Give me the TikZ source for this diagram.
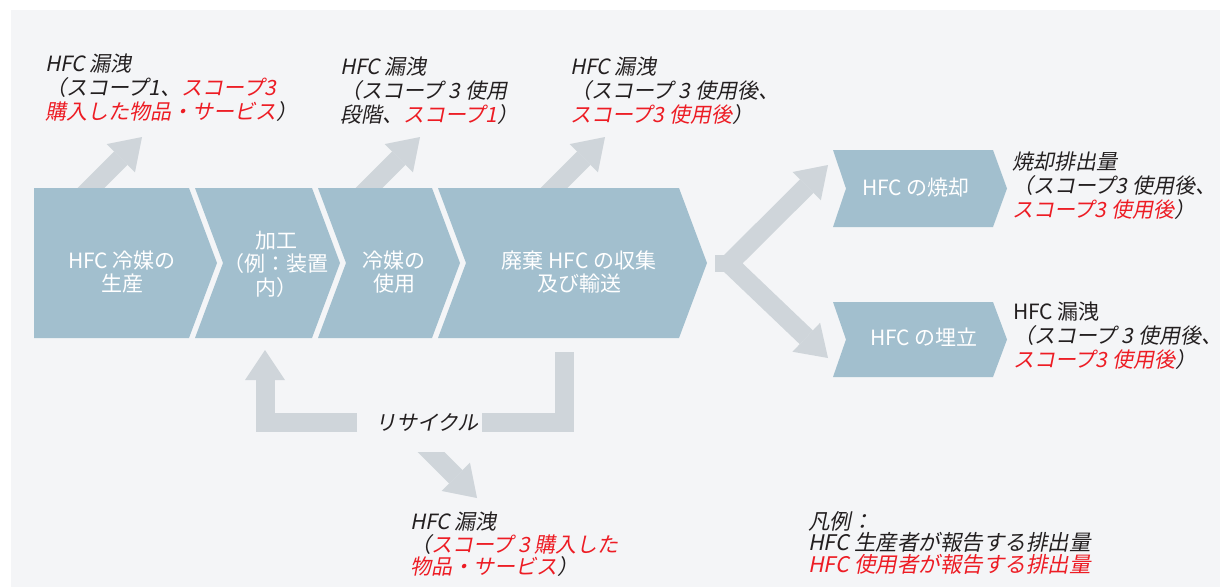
\documentclass[tikz,border=0pt]{standalone}
\usepackage{fontspec}
\setmainfont{Noto Sans CJK JP}
\newfontfamily\jpup{Noto Sans CJK JP}
\newfontfamily\jpit[FakeSlant=0.2]{Noto Sans CJK JP}
\usetikzlibrary{arrows.meta}
\definecolor{bgc}{HTML}{F4F5F7}
\definecolor{chevc}{HTML}{A2BFCE}
\definecolor{arrc}{HTML}{CFD5DA}
\definecolor{redc}{HTML}{ED1C24}
\definecolor{txtc}{HTML}{231F20}
\newcommand\rd[1]{\textcolor{redc}{#1}}
\tikzset{
  chev/.style={fill=chevc, draw=none},
  headtip/.tip={Triangle[length=30pt,width=40pt,line width=0pt]},
  flow/.style={draw=arrc, line width=19pt, -headtip},
  band/.style={draw=arrc, line width=19pt, line join=miter},
  lbl/.style={align=left, anchor=north west, inner sep=0pt, text=txtc,
    font=\fontsize{21}{24}\selectfont\jpit},
  chevtxt/.style={align=center, inner sep=0pt, text=white,
    font=\fontsize{21}{23.5}\selectfont},
}
\begin{document}
\begin{tikzpicture}[x=1pt,y=-1pt]
\useasboundingbox (0,0) rectangle (1229,587);
\fill[white] (0,0) rectangle (1229,587);
\fill[bgc] (11,10) rectangle (1220,587);

% leak arrows (behind chevrons)
\coordinate (l1s) at (72,207);  \coordinate (l1t) at (142,137);
\coordinate (l2s) at (350,207); \coordinate (l2t) at (420,137);
\coordinate (l3s) at (535,207); \coordinate (l3t) at (605,137);
\draw[flow] (l1s) -- (l1t);
\draw[flow] (l2s) -- (l2t);
\draw[flow] (l3s) -- (l3t);

% chevrons of the main row
\fill[chev] (34,188) -- (189,188) -- (217,263) -- (189,338) -- (34,338) -- cycle;
\fill[chev] (195,188) -- (312,188) -- (340,263) -- (312,338) -- (195,338) -- (223,263) -- cycle;
\fill[chev] (318,188) -- (432,188) -- (460,263) -- (432,338) -- (318,338) -- (346,263) -- cycle;
\fill[chev] (438,188) -- (679,188) -- (707,263) -- (679,338) -- (438,338) -- (466,263) -- cycle;
% right chevrons
\fill[chev] (833,150) -- (993,150) -- (1007,188.5) -- (993,227) -- (833,227) -- (846,188.5) -- cycle;
\fill[chev] (833,302) -- (993,302) -- (1007,339.5) -- (993,377) -- (833,377) -- (846,339.5) -- cycle;

% fork
\coordinate (fs) at (715,263.5);
\coordinate (fv) at (729,263.5);
\coordinate (fu) at (828,165);
\coordinate (fl) at (828,358);
\draw[draw=arrc, line width=17pt] (fs) -- (737,263.5);
\draw[band, headtip-headtip] (fu) -- (fv) -- (fl);

% recycle loop
\coordinate (r1) at (357,422.5);
\coordinate (r2) at (265,422.5);
\coordinate (r3) at (265,350);
\coordinate (r4) at (482,422.5);
\coordinate (r5) at (564,422.5);
\coordinate (r6) at (564,352);
\draw[band, -headtip] (r1) -- (r2) -- (r3);
\draw[band] (r4) -- (r5) -- (r6);

% leak down arrow
\coordinate (d1) at (411,432);
\coordinate (d2) at (477,498);
\begin{scope}
\clip (395,452) rectangle (520,520);
\draw[flow] (d1) -- (d2);
\end{scope}

% chevron texts
\node[chevtxt] (c1) at (122,272) {HFC 冷媒の\\生産};
\node[chevtxt] (c2) at (276,264) {加工\\（例：装置\\内）};
\node[chevtxt] (c3) at (394,272) {冷媒の\\使用};
\node[chevtxt] (c4) at (579,272) {廃棄 HFC の収集\\及び輸送};
\node[chevtxt] (c5) at (916,188) {HFC の焼却};
\node[chevtxt] (c6) at (924,337) {HFC の埋立};

% labels
\node[lbl] (t1) at (45,54) {HFC 漏洩\\（スコープ1、\rd{スコープ3}\\\rd{購入した物品・サービス}）};
\node[lbl] (t2) at (340,57) {HFC 漏洩\\（スコープ 3 使用\\段階、\rd{スコープ1}）};
\node[lbl] (t3) at (570,57) {HFC 漏洩\\（スコープ 3 使用後、\\\rd{スコープ3 使用後}）};
\node[lbl] (t4) at (1012,152) {焼却排出量\\（スコープ3 使用後、\\\rd{スコープ3 使用後}）};
\node[lbl] (t5) at (1013,302) {{\jpup HFC 漏洩}\\（スコープ 3 使用後、\\\rd{スコープ3 使用後}）};
\node[lbl, font=\fontsize{21}{22.5}\selectfont\jpit] (t6) at (410,512) {HFC 漏洩\\（\rd{スコープ 3 購入した}\\\rd{物品・サービス}）};
\node[lbl, font=\fontsize{21.5}{21.5}\selectfont\jpit] (leg) at (808,511) {凡例：\\HFC 生産者が報告する排出量\\\rd{HFC 使用者が報告する排出量}};
\node[inner sep=0pt, text=txtc, font=\fontsize{21}{24}\selectfont\jpit] (rec) at (427,423) {リサイクル};
\end{tikzpicture}
\end{document}
